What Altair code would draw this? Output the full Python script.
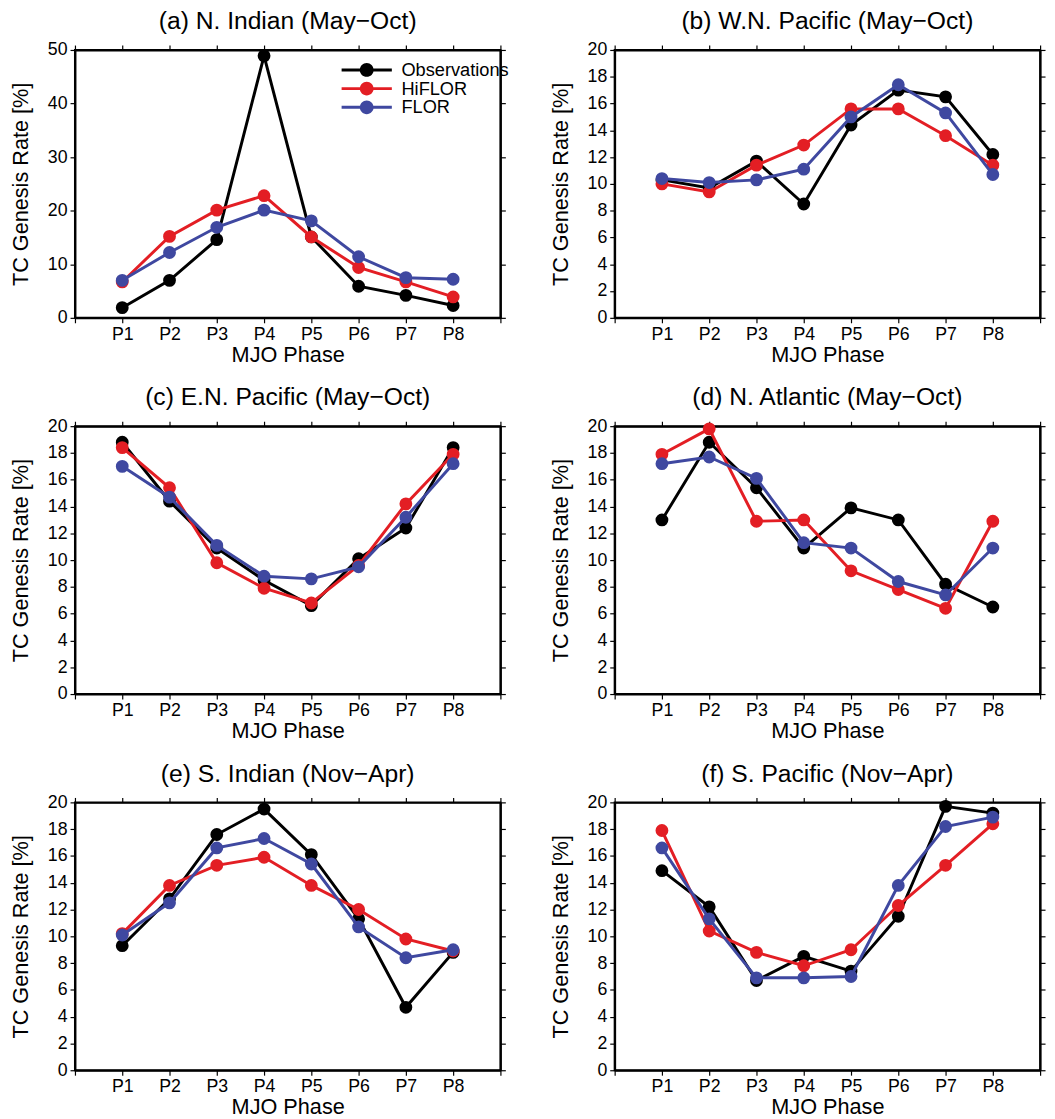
import altair as alt
import pandas as pd

FONT = "Liberation Sans"

phases = [1, 2, 3, 4, 5, 6, 7, 8]
series_names = ["Observations", "HiFLOR", "FLOR"]
series_colors = ["#000000", "#e31e24", "#3f48a0"]

titles = [
    "(a) N. Indian (May\u2212Oct)",
    "(b) W.N. Pacific (May\u2212Oct)",
    "(c) E.N. Pacific (May\u2212Oct)",
    "(d) N. Atlantic (May\u2212Oct)",
    "(e) S. Indian (Nov\u2212Apr)",
    "(f) S. Pacific (Nov\u2212Apr)",
]

# (a) N. Indian
a_obs = [1.9, 7.0, 14.6, 48.9, 15.1, 5.9, 4.2, 2.3]
a_hif = [6.7, 15.2, 20.1, 22.8, 15.1, 9.4, 6.7, 3.9]
a_flo = [7.0, 12.2, 16.9, 20.1, 18.1, 11.4, 7.5, 7.2]
# (b) W.N. Pacific
b_obs = [10.3, 9.7, 11.7, 8.5, 14.4, 17.0, 16.5, 12.2]
b_hif = [10.0, 9.4, 11.4, 12.9, 15.6, 15.6, 13.6, 11.4]
b_flo = [10.4, 10.1, 10.3, 11.1, 15.0, 17.4, 15.3, 10.7]
# (c) E.N. Pacific
c_obs = [18.8, 14.4, 10.9, 8.5, 6.6, 10.1, 12.4, 18.4]
c_hif = [18.4, 15.4, 9.8, 7.9, 6.8, 9.6, 14.2, 17.9]
c_flo = [17.0, 14.7, 11.1, 8.8, 8.6, 9.5, 13.2, 17.2]
# (d) N. Atlantic
d_obs = [13.0, 18.8, 15.4, 10.9, 13.9, 13.0, 8.2, 6.5]
d_hif = [17.9, 19.8, 12.9, 13.0, 9.2, 7.8, 6.4, 12.9]
d_flo = [17.2, 17.7, 16.1, 11.3, 10.9, 8.4, 7.4, 10.9]
# (e) S. Indian
e_obs = [9.3, 12.8, 17.6, 19.5, 16.1, 11.3, 4.7, 8.8]
e_hif = [10.2, 13.8, 15.3, 15.9, 13.8, 12.0, 9.8, 8.9]
e_flo = [10.1, 12.5, 16.6, 17.3, 15.4, 10.7, 8.4, 9.0]
# (f) S. Pacific
f_obs = [14.9, 12.2, 6.7, 8.5, 7.4, 11.5, 19.7, 19.2]
f_hif = [17.9, 10.4, 8.8, 7.8, 9.0, 12.3, 15.3, 18.4]
f_flo = [16.6, 11.3, 6.9, 6.9, 7.0, 13.8, 18.2, 18.9]

panel_data = [
    (a_obs, a_hif, a_flo, 50, 10),
    (b_obs, b_hif, b_flo, 20, 2),
    (c_obs, c_hif, c_flo, 20, 2),
    (d_obs, d_hif, d_flo, 20, 2),
    (e_obs, e_hif, e_flo, 20, 2),
    (f_obs, f_hif, f_flo, 20, 2),
]

x_ticks = list(range(0, 10))
label_expr = "datum.value >= 1 && datum.value <= 8 ? 'P' + datum.value : ''"

W = 432
H = 272

# legend glyph: a line with a dot (symbol size 100 -> 5 px per path unit)
LEGEND_PATH = ("M-5.1,-0.3 H5.1 V0.3 H-5.1 Z "
               "M1.4,0 A1.4,1.4 0 1,1 -1.4,0 A1.4,1.4 0 1,1 1.4,0 Z")

LEGEND = alt.Legend(orient="none", legendX=287, legendY=11, title=None,
                    symbolType=LEGEND_PATH, symbolSize=100,
                    symbolStrokeWidth=0, symbolOffset=0, rowPadding=0,
                    labelFontSize=18.5, labelFont=FONT, labelColor="black",
                    labelOffset=26, padding=0, offset=0)


def make_panel(idx):
    obs, hif, flo, ymax, ystep = panel_data[idx]
    y_ticks = list(range(0, ymax + 1, ystep))
    xs = alt.Scale(domain=[0, 9], nice=False, zero=False)
    ys = alt.Scale(domain=[0, ymax], nice=False, zero=True)
    x_axis = alt.Axis(values=x_ticks, labelExpr=label_expr, title="MJO Phase",
                      orient="bottom")
    y_axis = alt.Axis(values=y_ticks, title="TC Genesis Rate [%]", orient="left")
    cscale = alt.Scale(domain=series_names, range=series_colors)

    layers = []
    for name, col, vals in zip(series_names, series_colors, [obs, hif, flo]):
        df = pd.DataFrame({"phase": phases, "value": vals,
                           "series": [name] * len(phases)})
        base = alt.Chart(df).encode(
            x=alt.X("phase:Q", scale=xs, axis=x_axis),
            y=alt.Y("value:Q", scale=ys, axis=y_axis),
        )
        line = base.mark_line(strokeWidth=3, color=col)
        pts = base.mark_point(filled=True, size=170, opacity=1).encode(
            color=alt.Color("series:N", scale=cscale, legend=LEGEND))
        layers += [line, pts]

    main = alt.layer(*layers)

    mdf = pd.DataFrame({"phase": phases, "value": obs})
    mirror = alt.Chart(mdf).mark_point(opacity=0).encode(
        x=alt.X("phase:Q", scale=alt.Scale(domain=[0, 9], nice=False, zero=False),
                axis=alt.Axis(values=x_ticks, labels=False, title=None, orient="top")),
        y=alt.Y("value:Q", scale=alt.Scale(domain=[0, ymax], nice=False, zero=True),
                axis=alt.Axis(values=y_ticks, labels=False, title=None, orient="right")),
    )

    return alt.layer(main, mirror).resolve_scale(x="independent", y="independent").properties(
        width=W, height=H,
        title=alt.TitleParams(titles[idx], fontSize=25, font=FONT, fontWeight="normal",
                              color="black", anchor="middle", offset=7),
    )


rows = []
for r in range(3):
    rows.append(alt.hconcat(make_panel(2 * r), make_panel(2 * r + 1), spacing=41))

chart = alt.vconcat(*rows, spacing=19).properties(
    padding={"left": 0, "top": -8, "right": 0, "bottom": 0}
).configure_view(
    stroke="black", strokeWidth=2
).configure_axis(
    grid=False,
    domainColor="black", domainWidth=2,
    tickColor="black", tickWidth=1.2, tickSize=5,
    labelColor="black", labelFont=FONT, labelFontSize=18, labelPadding=3,
    titleColor="black", titleFont=FONT, titleFontSize=22, titleFontWeight="normal",
    titlePadding=6, labelFlush=False, labelOverlap=False,
).configure_axisBottom(
    titlePadding=1, labelPadding=3
).configure_axisLeft(
    titlePadding=15
)

chart.save("out.html", embed_options={"renderer": "svg", "actions": False})
